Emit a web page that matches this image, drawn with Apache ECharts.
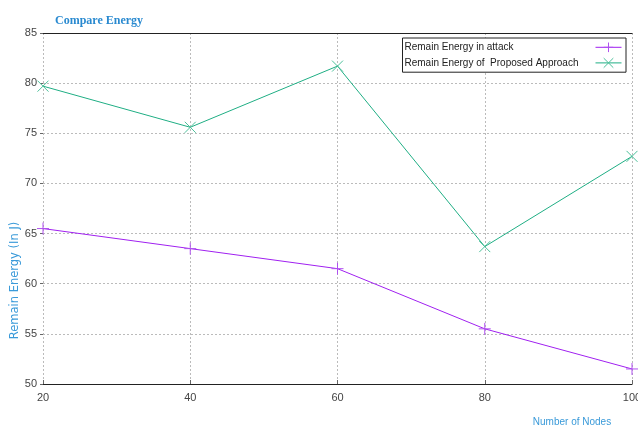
<!DOCTYPE html>
<html>
<head>
<meta charset="utf-8">
<script src="https://cdn.jsdelivr.net/npm/echarts@6/dist/echarts.min.js"></script>
<style>
  html, body { margin: 0; padding: 0; background: #fff; }
  #chart { width: 638px; height: 427px; }
</style>
</head>
<body>
<div id="chart"></div>
<script>
// Node counts on the x axis
const nodes = [20, 40, 60, 80, 100];
// Remaining energy (J) per scenario
const attackEnergy = [65.5, 63.5, 61.5, 55.5, 51.5];
const proposedEnergy = [79.7, 75.6, 81.7, 63.7, 72.7];
const seriesNames = ['Remain Energy in attack', 'Remain Energy of  Proposed Approach'];

const plusSymbol = 'path://M5,0 L5,10 M0,5 L10,5';
const crossSymbol = 'path://M0,0 L10,10 M10,0 L0,10';

const sans = '"Liberation Sans Narrow", "Liberation Sans", sans-serif';

const chart = echarts.init(document.getElementById('chart'), null, { renderer: 'canvas' });

const pairs = arr => nodes.map((n, i) => [n, arr[i]]);

chart.setOption({
  animation: false,
  title: {
    text: 'Compare Energy',
    left: 50,
    top: 10,
    textStyle: {
      fontFamily: '"Liberation Serif", serif',
      fontSize: 12,
      fontWeight: 'bold',
      color: '#2a8ad0'
    }
  },
  legend: {
    orient: 'vertical',
    right: 12,
    top: 38,
    align: 'right',
    itemWidth: 26,
    itemHeight: 12,
    itemGap: 5,
    padding: [4, 4, 4, 2],
    borderColor: '#222',
    borderWidth: 1,
    backgroundColor: '#fff',
    lineStyle: { width: 1 },
    itemStyle: { borderWidth: 1 },
    formatter: name => '{t|' + name + '}',
    textStyle: {
      rich: {
        t: {
          fontFamily: sans,
          fontSize: 10,
          color: '#222',
          width: 186,
          align: 'left'
        }
      }
    },
    data: seriesNames
  },
  grid: { left: 43, right: 6, top: 33, bottom: 43, outerBoundsMode: 'none', containLabel: false },
  xAxis: [{
    type: 'value',
    min: 20,
    max: 100,
    interval: 20,
    name: 'Number of Nodes',
    nameLocation: 'end',
    nameGap: 0,
    nameMoveOverlap: false,
    nameTextStyle: {
      fontFamily: sans,
      fontSize: 10,
      color: '#3a9ad9',
      align: 'center',
      verticalAlign: 'top',
      padding: [33, 120, 0, 0]
    },
    axisLine: { show: true, lineStyle: { color: '#222', width: 1.2 } },
    axisTick: { show: true, inside: true, length: 4, lineStyle: { color: '#666' } },
    axisLabel: { fontFamily: sans, fontSize: 11, color: '#444', margin: 8 },
    splitLine: { show: true, lineStyle: { color: '#bbb', type: [2, 2], width: 1 } }
  }, {
    type: 'value',
    position: 'top',
    min: 20,
    max: 100,
    axisLine: { show: true, lineStyle: { color: '#222', width: 1.2 } },
    axisTick: { show: false },
    axisLabel: { show: false },
    splitLine: { show: false }
  }],
  yAxis: {
    type: 'value',
    min: 50,
    max: 85,
    interval: 5,
    name: 'Remain Energy (In J)',
    nameLocation: 'middle',
    nameGap: 22,
    nameMoveOverlap: false,
    nameTextStyle: {
      fontFamily: '"DejaVu Sans", sans-serif',
      fontSize: 11.5,
      color: '#3a9ad9',
      padding: [0, 144, 0, 0]
    },
    axisLine: { show: false },
    axisTick: { show: true, length: 3, lineStyle: { color: '#666' } },
    axisLabel: { fontFamily: sans, fontSize: 11, color: '#444', margin: 6 },
    splitLine: { show: true, lineStyle: { color: '#bbb', type: [2, 2], width: 1 } }
  },
  series: [{
    name: seriesNames[0],
    type: 'line',
    data: pairs(attackEnergy),
    symbol: plusSymbol,
    symbolSize: 12,
    lineStyle: { color: '#a020f0', width: 1 },
    itemStyle: { color: 'transparent', borderColor: '#b050f0', borderWidth: 1 },
    color: '#a020f0',
    z: 3
  }, {
    name: seriesNames[1],
    type: 'line',
    data: pairs(proposedEnergy),
    symbol: crossSymbol,
    symbolSize: 11,
    lineStyle: { color: '#1fae84', width: 1 },
    itemStyle: { color: 'transparent', borderColor: '#4cc09a', borderWidth: 1 },
    color: '#1fae84',
    z: 3
  }]
});
</script>
</body>
</html>
